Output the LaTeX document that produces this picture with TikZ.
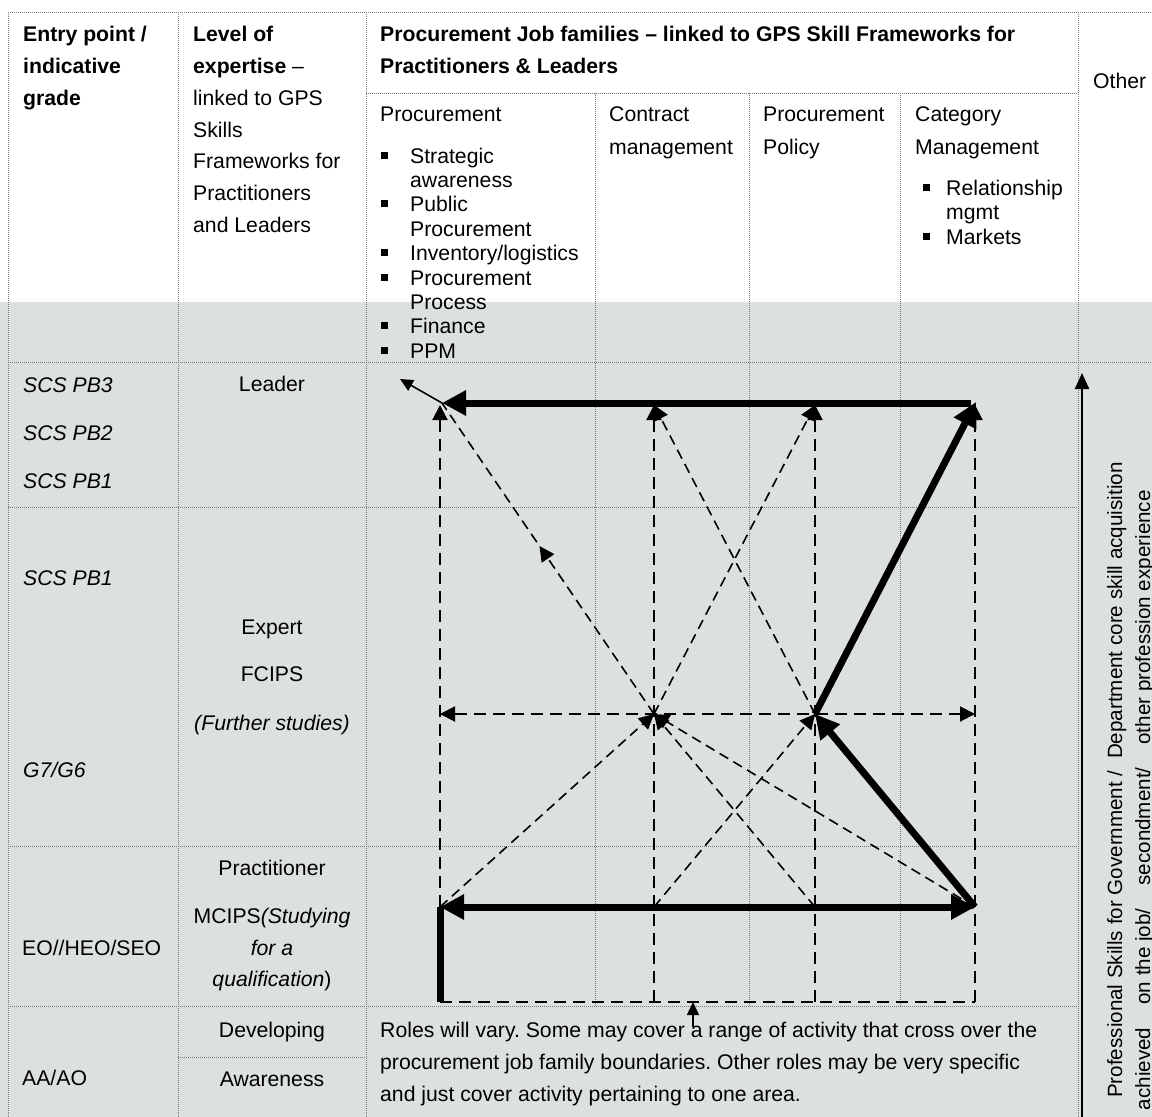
\documentclass[tikz,border=0pt]{standalone}
\usepackage{fontspec}
\setmainfont{Liberation Sans}
\usetikzlibrary{arrows.meta,decorations.markings}
\definecolor{bgrey}{RGB}{221,224,225}
\definecolor{gridc}{RGB}{120,120,120}
\frenchspacing
\begin{document}
\begin{tikzpicture}[x=1pt,y=-1pt,
 grid/.style={draw=gridc,line width=0.9pt,dash pattern=on 1pt off 1pt},
 txt/.style={inner sep=0pt,anchor=base west,font=\fontsize{21.2}{25}\selectfont},
 ctxt/.style={txt,anchor=base},
 bld/.style={txt,font=\fontsize{21.2}{25}\selectfont\bfseries},
 itx/.style={txt,font=\fontsize{21.2}{25}\selectfont\itshape},
 citx/.style={itx,anchor=base},
 rot/.style={txt,rotate=90,font=\fontsize{20.6}{25}\selectfont},
 bullet/.style={fill=black},
 thickarrow/.style={line width=7pt,-{Triangle[length=24pt,width=24pt]}},
 thickline/.style={line width=7pt},
 dsh/.style={line width=2pt,dash pattern=on 12pt off 7pt},
 dshd/.style={line width=1.6pt,dash pattern=on 10pt off 6pt},
 dtip/.style={-{Triangle[length=15pt,width=15pt]}},
 ttip/.style={line width=1.6pt,-{Triangle[length=13pt,width=12pt]}},
 midarrow/.style={postaction={decorate},decoration={markings,mark=at position 0.54 with {\arrow{Triangle[length=15pt,width=15pt]}}}},
]
\useasboundingbox (0,0) rectangle (1152,1117);
\fill[white] (0,0) rectangle (1152,1117);
\fill[bgrey] (0,302) rectangle (1152,1117);

% grid
\draw[grid] (8,12) -- (1152,12);
\draw[grid] (366,93) -- (1078,93);
\draw[grid] (8,362) -- (1152,362);
\draw[grid] (8,507) -- (1078,507);
\draw[grid] (8,846) -- (1078,846);
\draw[grid] (8,1006) -- (1078,1006);
\draw[grid] (178,1057) -- (366,1057);
\foreach \x in {8,178,366,1078} \draw[grid] (\x,12) -- (\x,1117);
\foreach \x in {595,749,900} \draw[grid] (\x,93) -- (\x,1006);

% header texts
\node[bld] (h1a) at (23,41) {Entry point /};
\node[bld] (h1b) at (23,73) {indicative};
\node[bld] (h1c) at (23,105) {grade};
\node[bld] (h2a) at (193,41) {Level of};
\node[txt] (h2b) at (193,73) {\textbf{expertise} –};
\node[txt] (h2c) at (193,105) {linked to GPS};
\node[txt] (h2d) at (193,137) {Skills};
\node[txt] (h2e) at (193,168) {Frameworks for};
\node[txt] (h2f) at (193,200) {Practitioners};
\node[txt] (h2g) at (193,232) {and Leaders};
\node[bld] (h3a) at (380,41) {Procurement Job families – linked to GPS Skill Frameworks for};
\node[bld] (h3b) at (380,73) {Practitioners \& Leaders};
\node[txt] (oth) at (1093,88) {Other};

% sub headers
\node[txt] (p0) at (380,121) {Procurement};
\node[txt] (p1) at (410,163) {Strategic};
\node[txt] (p2) at (410,187.4) {awareness};
\node[txt] (p3) at (410,211.8) {Public};
\node[txt] (p4) at (410,236.2) {Procurement};
\node[txt] (p5) at (410,260.6) {Inventory/logistics};
\node[txt] (p6) at (410,285) {Procurement};
\node[txt] (p7) at (410,309.4) {Process};
\node[txt] (p8) at (410,333.8) {Finance};
\node[txt] (p9) at (410,358.2) {PPM};
\foreach \y in {155,203.8,252.6,277,325.8,350.2} \fill[bullet] (380.5,\y-3.5) rectangle ++(7,7);

\node[txt] (c1) at (609,121) {Contract};
\node[txt] (c2) at (609,154) {management};
\node[txt] (q1) at (763,121) {Procurement};
\node[txt] (q2) at (763,154) {Policy};
\node[txt] (g1) at (915,121) {Category};
\node[txt] (g2) at (915,154) {Management};
\node[txt] (g3) at (946,195) {Relationship};
\node[txt] (g4) at (946,219.4) {mgmt};
\node[txt] (g5) at (946,244) {Markets};
\foreach \y in {187,236} \fill[bullet] (922.5,\y-3.5) rectangle ++(7,7);

% column 1
\node[itx] (e1) at (23,392) {SCS PB3};
\node[itx] (e2) at (23,440) {SCS PB2};
\node[itx] (e3) at (23,488) {SCS PB1};
\node[itx] (e4) at (23,585) {SCS PB1};
\node[itx] (e5) at (23,777) {G7/G6};
\node[txt] (e6) at (22,955) {EO//HEO/SEO};
\node[txt] (e7) at (22,1085) {AA/AO};

% column 2
\node[ctxt] (l1) at (272,391) {Leader};
\node[ctxt] (l2) at (272,634) {Expert};
\node[ctxt] (l3) at (272,681) {FCIPS};
\node[citx] (l4) at (272,730) {(Further studies)};
\node[ctxt] (l5) at (272,875) {Practitioner};
\node[ctxt] (l6) at (272,923) {MCIPS\textit{(Studying}};
\node[citx] (l7) at (272,955) {for a};
\node[ctxt] (l8) at (272,986) {\textit{qualification})};
\node[ctxt] (l9) at (272,1037) {Developing};
\node[ctxt] (l10) at (272,1086) {Awareness};

% bottom text
\node[txt] (r1) at (380,1037) {Roles will vary. Some may cover a range of activity that cross over the};
\node[txt] (r2) at (380,1069) {procurement job family boundaries. Other roles may be very specific};
\node[txt] (r3) at (380,1101) {and just cover activity pertaining to one area.};

% rotated text
\node[rot,anchor=base west] (v1) at (1122,1098) {Professional Skills for Government / \ Department core skill acquisition};
\node[rot,anchor=base east] (v2) at (1150,490) {achieved\hspace{23pt}on the job/\hspace{23pt}secondment/\hspace{23pt}other profession experience};

% coordinates
\coordinate (TA) at (442,403);
\coordinate (TR) at (971,403);
\coordinate (TL) at (400,379);
\coordinate (A4) at (440,405);
\coordinate (B4) at (654,405);
\coordinate (C4) at (815,405);
\coordinate (D4) at (975,405);
\coordinate (DT) at (976,402);
\coordinate (A2) at (440,714);
\coordinate (B2) at (654,714);
\coordinate (C2) at (815,714);
\coordinate (D2) at (975,714);
\coordinate (A1) at (440,907);
\coordinate (B1) at (654,907);
\coordinate (C1) at (815,907);
\coordinate (D1) at (975,907);
\coordinate (A0) at (440,1002);
\coordinate (B0) at (654,1002);
\coordinate (C0) at (815,1002);
\coordinate (D0) at (975,1002);
\coordinate (S0) at (693,1027);
\coordinate (S1) at (693,1002);
\coordinate (V0) at (1082,1117);
\coordinate (V1) at (1082,373);

% dashed structure
\draw[dsh] (A0) -- (D0);
\draw[dsh,dtip] (A1) -- (A4);
\draw[dsh,dtip] (B0) -- (B4);
\draw[dsh,dtip] (C0) -- (C4);
\draw[dsh,dtip] (D0) -- (D4);
\draw[dsh,{Triangle[length=15pt,width=15pt]}-{Triangle[length=15pt,width=15pt]}] (A2) -- (D2);

% dashed diagonals
\draw[dshd,dtip] (A1) -- (B2);
\draw[dshd,dtip] (C1) -- (B2);
\draw[dshd,dtip] (D1) -- (B2);
\draw[dshd,dtip] (B1) -- (C2);
\draw[dshd,dtip] (B2) -- (C4);
\draw[dshd,dtip] (C2) -- (B4);
\draw[dshd,midarrow] (B2) -- (TA);

% thick arrows
\draw[thickline] (A0) -- (A1);
\draw[line width=7pt,{Triangle[length=24pt,width=24pt]}-{Triangle[length=24pt,width=24pt]}] (A1) -- (D1);
\draw[thickarrow] (TR) -- (TA);
\draw[thickarrow] (C2) -- (DT);
\draw[thickarrow] (D1) -- (C2);

% thin arrows
\draw[ttip] (TA) -- (TL);
\draw[ttip] (S0) -- (S1);
\draw[line width=2.2pt,-{Triangle[length=16pt,width=14pt]}] (V0) -- (V1);
\end{tikzpicture}
\end{document}
